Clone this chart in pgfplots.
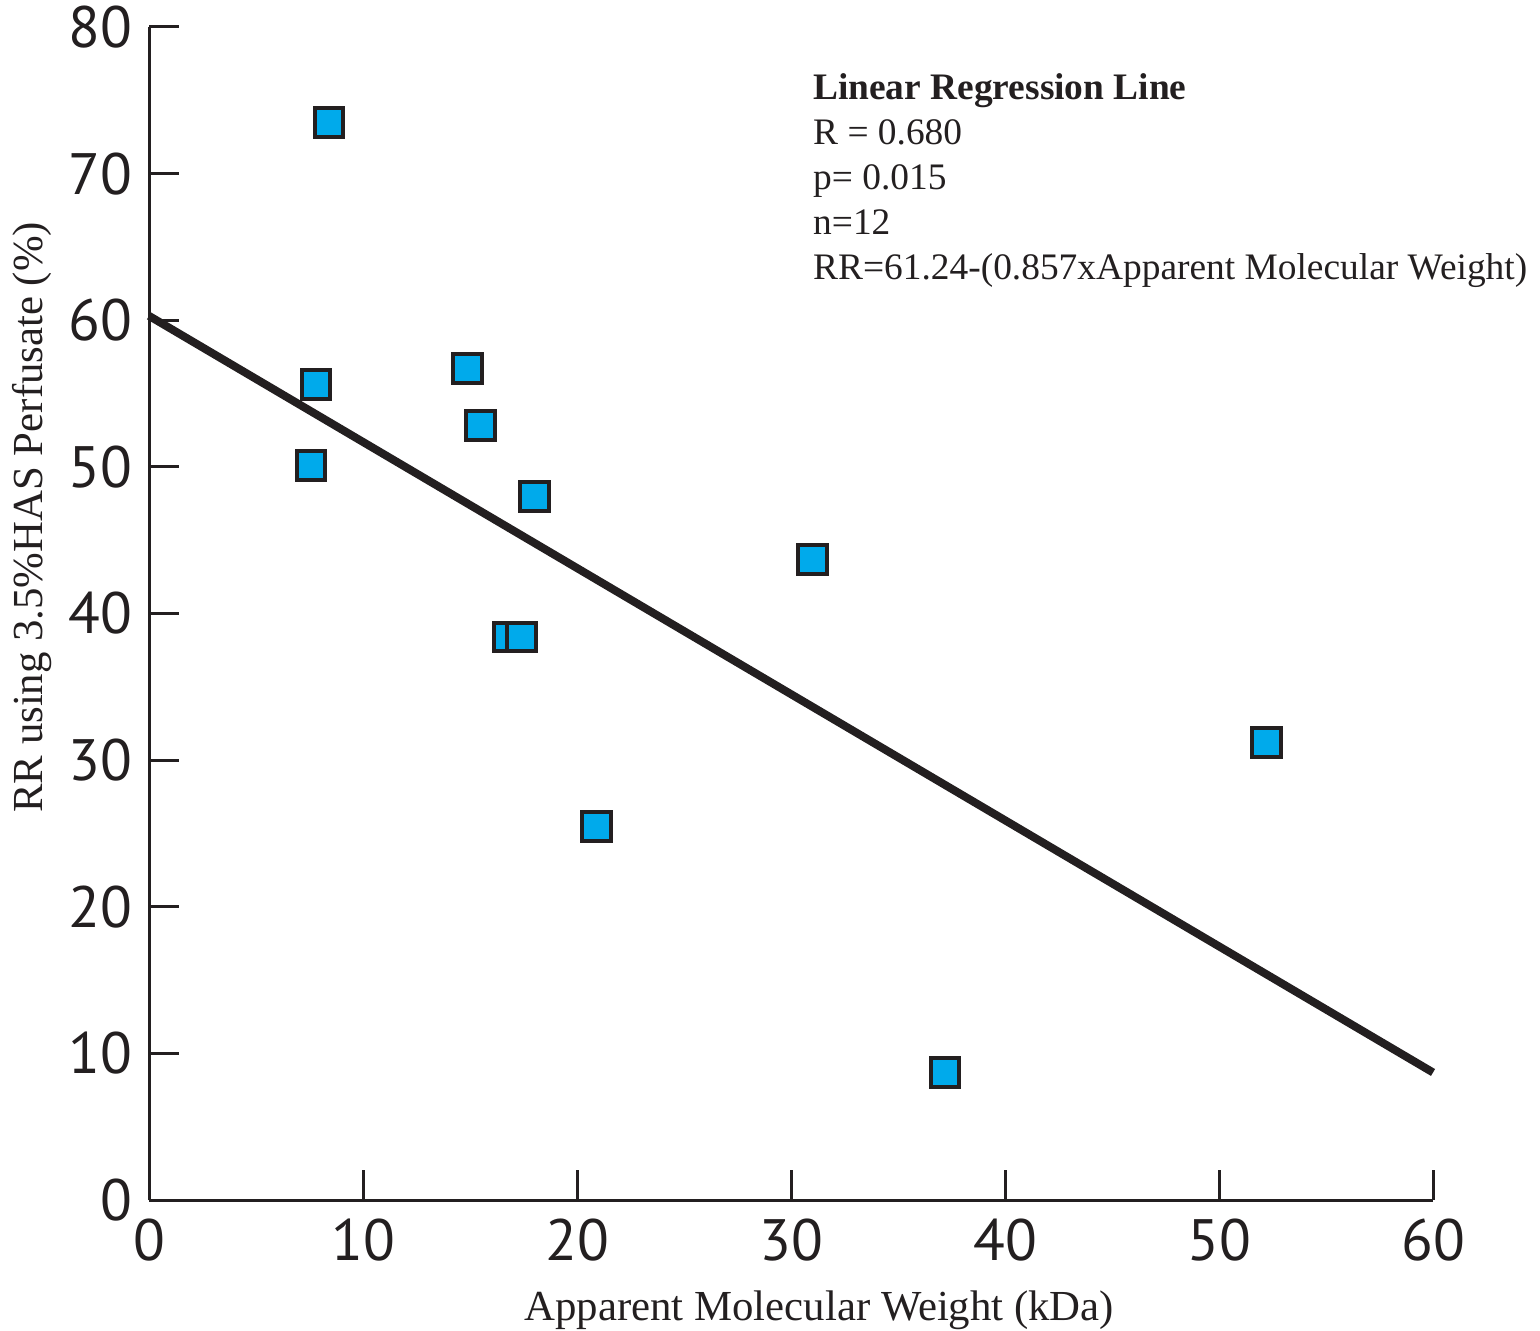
\documentclass[border=0pt]{standalone}
\usepackage{fontspec}
\setmainfont{Liberation Serif}
\newfontfamily\ticksf{PT Sans}
\usepackage{pgfplots}
\pgfplotsset{compat=1.18}
\definecolor{ptcyan}{RGB}{0,170,235}
\definecolor{ink}{RGB}{35,31,32}

\begin{document}
\begin{tikzpicture}
\begin{axis}[
    scale only axis,
    width=321pt,
    height=293.25pt,
    xmin=0, xmax=60,
    ymin=0, ymax=80,
    xtick={0,10,...,60},
    ytick={0,10,...,80},
    axis x line*=bottom,
    axis y line*=left,
    axis line style={ink, line width=0.75pt},
    tick style={ink, line width=0.75pt},
    tick align=inside,
    major tick length=7.5pt,
    /pgf/number format/assume math mode=true,
    ticklabel style={font=\ticksf\fontsize{14.6}{15}\selectfont, text=ink},
    xticklabel style={yshift=-1.3pt},
    yticklabel style={xshift=-0.6pt},
    xlabel={Apparent Molecular Weight (kDa)},
    ylabel={RR using 3.5\%HAS Perfusate (\%)},
    label style={font=\fontsize{10.7}{12}\selectfont, text=ink, inner sep=0pt},
    xlabel style={at={(axis description cs:0.522,-0.1023)}, anchor=base},
    ylabel style={at={(axis description cs:-0.0826,0.582)}, anchor=base},
    clip=false,
]
% regression line
\addplot[ink, line width=2pt] coordinates {(0,60.3) (60,8.7)};
% data
\addplot[only marks, mark=square*, mark size=3.6pt,
         mark options={fill=ptcyan, draw=ink, line width=1pt}]
coordinates {
(8.41,73.5) (7.80,55.6) (7.57,50.1) (14.9,56.7) (15.5,52.8) (18.0,48.0)
(16.8,38.4) (17.4,38.4) (20.9,25.5) (31.0,43.7) (52.2,31.2) (37.2,8.7)
};
\node[anchor=north west, align=left, inner sep=0pt, text=ink,
      font=\fontsize{9.35}{11.25}\selectfont] at (axis cs:31,76.85)
{\textbf{Linear Regression Line}\\
R = 0.680\\
p= 0.015\\
n=12\\
RR=61.24-(0.857xApparent Molecular Weight)};
\coordinate (bl) at (rel axis cs:0,0);
\coordinate (tr) at (rel axis cs:1,1);
\end{axis}
\pgfresetboundingbox
\path ([shift={(-37.25pt,-32.5pt)}]bl) rectangle ([shift={(26.75pt,6.75pt)}]tr);
\end{tikzpicture}
\end{document}
